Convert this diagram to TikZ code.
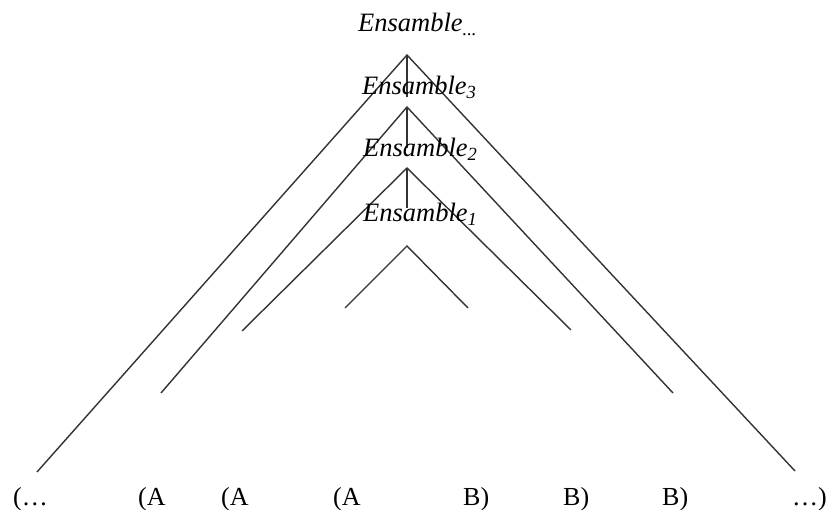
\documentclass[tikz,border=0pt]{standalone}
\usepackage{fontspec}
\setmainfont{Liberation Serif}
\begin{document}
\begin{tikzpicture}[x=1pt,y=-1pt,
  ln/.style={line width=1.4pt,draw=black!80},
  ens/.style={font=\fontsize{26.5}{28}\selectfont\itshape,anchor=base west,inner sep=0pt},
  lab/.style={font=\fontsize{26}{28}\selectfont,anchor=base west,inner sep=0pt}]
\useasboundingbox (0,0) rectangle (828,510);
% apexes and ends
\coordinate (a4) at (407,55);  \coordinate (l4) at (37,472);  \coordinate (r4) at (795,471);
\coordinate (a3) at (407,107); \coordinate (l3) at (161,393); \coordinate (r3) at (673,393);
\coordinate (a2) at (407,168); \coordinate (l2) at (242,331); \coordinate (r2) at (571,330);
\coordinate (a1) at (407,246); \coordinate (l1) at (345,308); \coordinate (r1) at (468,308);
\coordinate (v4) at (407,97);
\coordinate (v3) at (407,148);
\coordinate (v2) at (407,208);
\draw[ln] (l4) -- (a4) -- (r4);
\draw[ln] (l3) -- (a3) -- (r3);
\draw[ln] (l2) -- (a2) -- (r2);
\draw[ln] (l1) -- (a1) -- (r1);
\draw[ln] (a4) -- (v4);
\draw[ln] (a3) -- (v3);
\draw[ln] (a2) -- (v2);
% labels
\node[ens] (e4) at (358,32) {Ensamble\textsubscript{...}};
\node[ens] (e3) at (362,95) {Ensamble\textsubscript{3}};
\node[ens] (e2) at (363,157) {Ensamble\textsubscript{2}};
\node[ens] (e1) at (363,222) {Ensamble\textsubscript{1}};
\node[lab] (b1) at (13,506) {(…};
\node[lab] (b2) at (138,506) {(A};
\node[lab] (b3) at (221,506) {(A};
\node[lab] (b4) at (333,506) {(A};
\node[lab] (b5) at (463,506) {B)};
\node[lab] (b6) at (563,506) {B)};
\node[lab] (b7) at (662,506) {B)};
\node[lab] (b8) at (792,506) {…)};
\end{tikzpicture}
\end{document}
